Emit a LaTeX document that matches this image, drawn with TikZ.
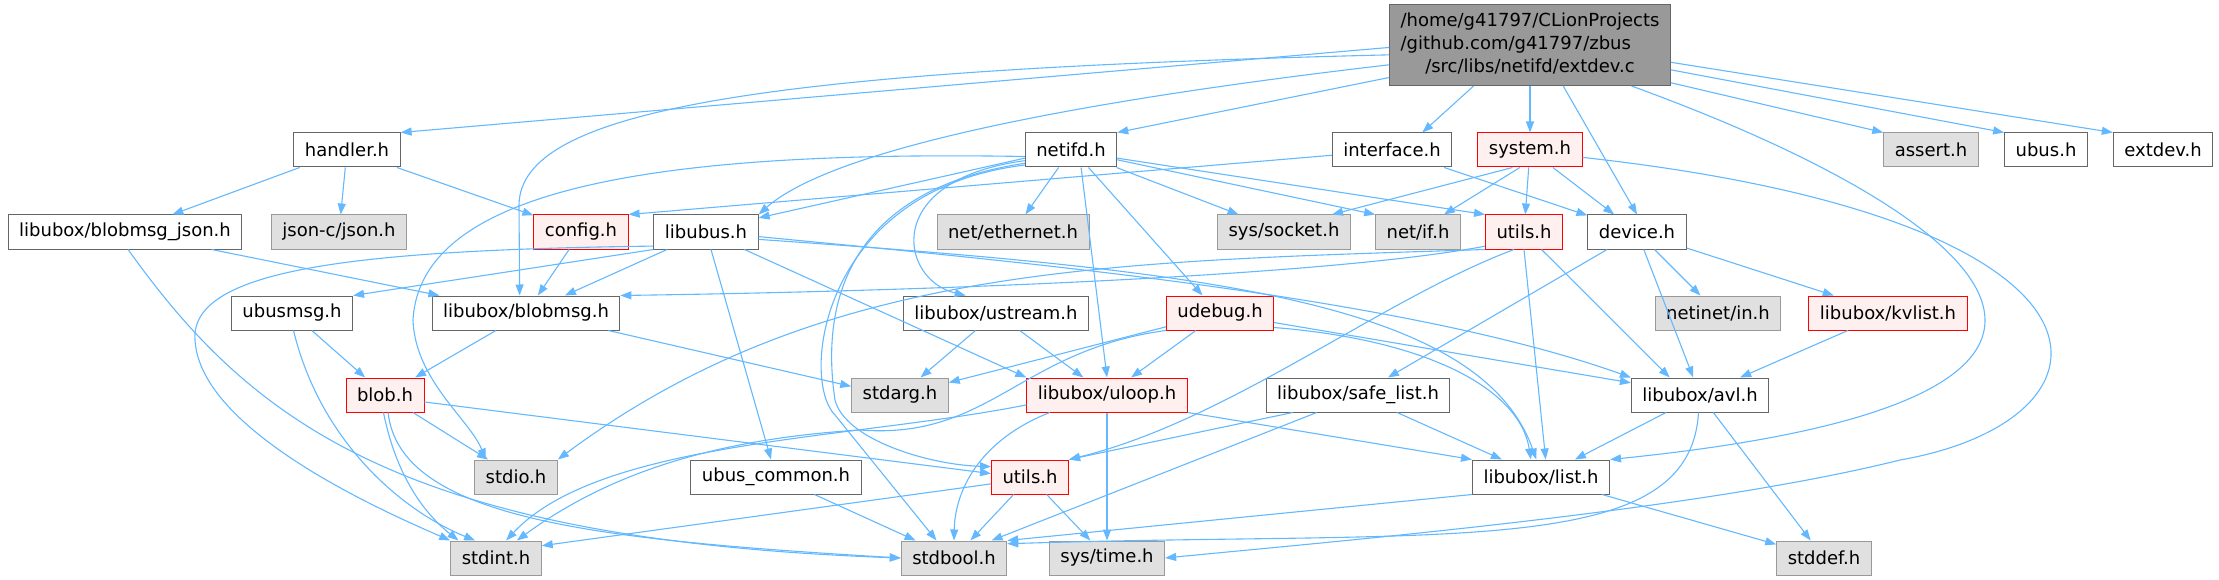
\documentclass[tikz,border=0pt]{standalone}
\usepackage{fontspec}
\setmainfont{DejaVu Sans}
\usepackage{tikz}
\usetikzlibrary{arrows.meta}

\definecolor{depblue}{HTML}{63B8FF}
\definecolor{boxgray}{HTML}{666666}
\definecolor{sysgray}{HTML}{999999}
\definecolor{sysfill}{HTML}{E0E0E0}
\definecolor{redfill}{HTML}{FFF0F0}

\begin{document}
\begin{tikzpicture}[x=1pt,y=-1pt,>={Triangle[length=11pt,width=8pt]},
    font=\fontsize{18}{23}\selectfont,
    file/.style={draw=boxgray,fill=white,line width=1pt,minimum height=34pt,inner xsep=11pt,inner ysep=0pt},
    sysfile/.style={file,draw=sysgray,fill=sysfill},
    redfile/.style={file,draw=red,fill=redfill},
    dep/.style={->,draw=depblue,line width=1.1pt}]
    \useasboundingbox (0,0) rectangle (2219,580);

    \node [file,fill=sysgray,inner ysep=6pt] (Main) at (1530,45)
        {\begin{tabular}{@{}l@{}}/home/g41797/CLionProjects\\/github.com/g41797/zbus\\\multicolumn{1}{@{}c@{}}{/src/libs/netifd/extdev.c}\end{tabular}};

    \node [file] (Handler) at (347,150) {handler.h};
    \node [file] (Netifd) at (1071,150) {netifd.h};
    \node [file] (Interface) at (1392,150) {interface.h};
    \node [redfile] (System) at (1530,150) {system.h};
    \node [sysfile] (Assert) at (1931,150) {assert.h};
    \node [file] (Ubus) at (2046,150) {ubus.h};
    \node [file] (Extdev) at (2163,150) {extdev.h};

    \node [file] (BlobmsgJson) at (125,232) {libubox/blobmsg\_json.h};
    \node [sysfile] (JsonC) at (339,232) {json-c/json.h};
    \node [redfile] (Config) at (581,232) {config.h};
    \node [file] (Libubus) at (706,232) {libubus.h};
    \node [sysfile] (Ethernet) at (1013,232) {net/ethernet.h};
    \node [sysfile] (Socket) at (1284,232) {sys/socket.h};
    \node [sysfile] (NetIf) at (1418,232) {net/if.h};
    \node [redfile] (Utils) at (1524,232) {utils.h};
    \node [file] (Device) at (1637,232) {device.h};

    \node [file] (Ubusmsg) at (292,313) {ubusmsg.h};
    \node [file] (Blobmsg) at (526,313) {libubox/blobmsg.h};
    \node [file] (Ustream) at (996,313) {libubox/ustream.h};
    \node [redfile] (Udebug) at (1220,313) {udebug.h};
    \node [sysfile] (Netinet) at (1718,313) {netinet/in.h};
    \node [redfile] (Kvlist) at (1888,313) {libubox/kvlist.h};

    \node [redfile] (Blob) at (385,395) {blob.h};
    \node [sysfile] (Stdarg) at (900,395) {stdarg.h};
    \node [redfile] (Uloop) at (1107,395) {libubox/uloop.h};
    \node [file] (SafeList) at (1358,395) {libubox/safe\_list.h};
    \node [file] (Avl) at (1700,395) {libubox/avl.h};

    \node [sysfile] (Stdio) at (516,477) {stdio.h};
    \node [file] (UbusCommon) at (776,477) {ubus\_common.h};
    \node [redfile] (LUtils) at (1030,477) {utils.h};
    \node [file] (List) at (1541,477) {libubox/list.h};

    \node [sysfile] (Stdint) at (496,558) {stdint.h};
    \node [sysfile] (Stdbool) at (954,558) {stdbool.h};
    \node [sysfile] (SysTime) at (1107,558) {sys/time.h};
    \node [sysfile] (Stddef) at (1824,558) {stddef.h};

    \foreach \from/\to in {Main/System,Handler/BlobmsgJson,Handler/JsonC,Handler/Config,
        BlobmsgJson/Blobmsg,Config/Blobmsg,Libubus/Blobmsg,Libubus/UbusCommon,
        Netifd/Ethernet,Netifd/Socket,System/Utils,System/Device,Interface/Device,
        Device/SafeList,Device/Avl,Device/Netinet,Device/Kvlist,Kvlist/Avl,Avl/List,
        Avl/Stddef,List/Stddef,SafeList/List,Udebug/Stdarg,Udebug/Uloop,Uloop/SysTime,
        Ustream/Stdarg,Ustream/Uloop,LUtils/Stdbool,LUtils/SysTime,Ubusmsg/Blob,
        Blobmsg/Blob,Blob/Stdio,UbusCommon/Stdbool}
        \draw [dep] (\from) -- (\to);

    \draw [dep] (Main.181) -- (Handler.north east);
    \draw [dep] (Main.193) -- (Netifd.north east);
    \draw [dep] (Main.216) -- (Interface.30);
    \draw [dep] (Main.309) -- (Device.north);
    \draw [dep] (Main.-15) -- (Assert.north west);
    \draw [dep] (Main.-10) -- (Ubus.north west);
    \draw [dep] (Main.-7) -- (Extdev.north west);
    \draw [dep] (Main.184) .. controls (760,70) and (520,110) .. (519,205) -- (Blobmsg.110);
    \draw [dep] (Main.188) .. controls (1000,110) and (820,160) .. (Libubus.north east);
    \draw [dep] (Main.-22) .. controls (2000,220) and (2200,400) .. (List.north east);

    \draw [dep] (Netifd.190) -- (Libubus.15);
    \draw [dep] (Netifd) -- (NetIf.north west);
    \draw [dep] (Netifd.-10) -- (Utils.north west);
    \draw [dep] (Netifd.-60) -- (Uloop.north);
    \draw [dep] (Netifd.-45) -- (Udebug.135);
    \draw [dep] (Netifd.188) .. controls (650,150) and (420,190) .. (413,320)
        .. controls (415,380) and (470,420) .. (Stdio.150);
    \draw [dep] (Netifd.193) .. controls (880,180) and (900,280) .. (Ustream.150);
    \draw [dep] (Netifd.196) .. controls (850,190) and (820,300) .. (835,400)
        .. controls (845,440) and (930,465) .. (LUtils.165);
    \draw [dep] (Netifd.198) .. controls (820,190) and (800,380) .. (835,415) -- (Stdbool.135);

    \draw [dep] (Interface.185) -- (Config.north east);
    \draw [dep] (System.225) -- (Socket.20);
    \draw [dep] (System.240) -- (NetIf.34);
    \draw [dep] (System.-8) .. controls (2150,220) and (2130,420) .. (1900,460)
        .. controls (1700,510) and (1350,540) .. (SysTime.east);

    \draw [dep] (Utils.200) .. controls (1350,272) and (1000,290) .. (Blobmsg.north east);
    \draw [dep] (Utils.south west) .. controls (1100,262) and (820,265) .. (Stdio.north east);
    \draw [dep] (Utils.south) -- (List.75);
    \draw [dep] (Utils.-45) -- (Avl.150);
    \draw [dep] (Utils.240) .. controls (1380,300) and (1230,420) .. (LUtils.north east);

    \draw [dep] (Libubus.south west) -- (Ubusmsg.north east);
    \draw [dep] (Libubus) -- (Uloop.north west);
    \draw [dep] (Libubus.195) .. controls (350,250) and (190,270) .. (195,340)
        .. controls (200,430) and (380,510) .. (Stdint.north west);
    \draw [dep] (Libubus.-5) .. controls (1000,260) and (1400,295) .. (Avl.north west);
    \draw [dep] (Libubus.-8) .. controls (1200,270) and (1480,300) .. (List.105);

    \draw [dep] (Udebug.-10) -- (Avl.170);
    \draw [dep] (Udebug.-15) .. controls (1430,340) and (1520,390) .. (List.120);
    \draw [dep] (Udebug.south west) .. controls (1020,350) and (990,440) .. (860,430)
        .. controls (700,440) and (600,480) .. (Stdint.40);

    \draw [dep] (Uloop.197) .. controls (980,440) and (955,490) .. (Stdbool.north);
    \draw [dep] (Uloop.south east) -- (List.north west);
    \draw [dep] (Uloop.187) .. controls (850,440) and (600,440) .. (Stdint.60);

    \draw [dep] (Avl.-95) .. controls (1690,560) and (1450,530) .. (Stdbool.15);
    \draw [dep] (List.south west) -- (Stdbool.north east);
    \draw [dep] (SafeList.195) -- (LUtils.north east);
    \draw [dep] (SafeList.203) -- (Stdbool.25);
    \draw [dep] (LUtils.190) -- (Stdint.15);

    \draw [dep] (Blobmsg.-12) -- (Stdarg.170);
    \draw [dep] (Blob.-10) -- (LUtils.175);
    \draw [dep] (Blob.-80) .. controls (400,520) and (600,540) .. (Stdbool.west);
    \draw [dep] (Blob.-95) .. controls (395,470) and (420,510) .. (Stdint.155);
    \draw [dep] (Ubusmsg.-85) .. controls (320,440) and (400,510) .. (Stdint.140);
    \draw [dep] (BlobmsgJson.-80) .. controls (250,420) and (400,540) .. (Stdbool.west);
\end{tikzpicture}
\end{document}
